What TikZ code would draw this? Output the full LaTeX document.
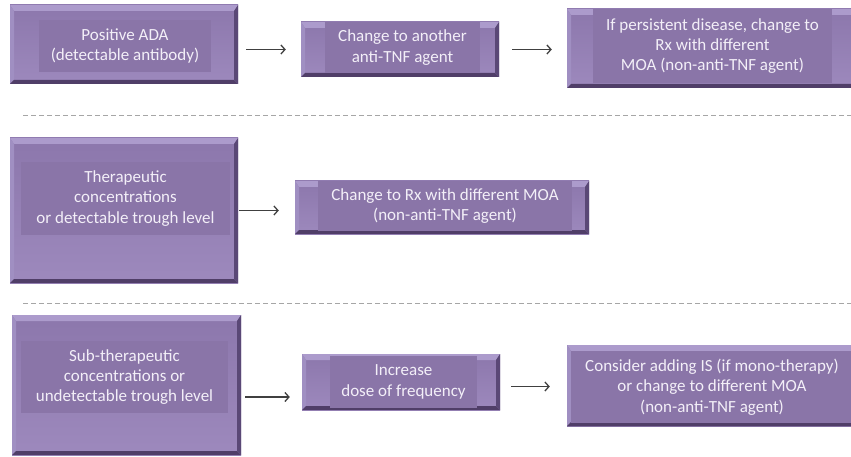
\documentclass[tikz,border=0pt]{standalone}
\usepackage{fontspec}
\setmainfont{Carlito}
\usetikzlibrary{arrows.meta,positioning,calc}
\definecolor{faceTop}{RGB}{140,119,172}
\definecolor{faceBot}{RGB}{157,137,189}
\definecolor{innerPurple}{RGB}{138,117,168}
\definecolor{bevLight}{RGB}{172,155,204}
\definecolor{bevSide}{RGB}{160,143,194}
\definecolor{bevDark}{RGB}{80,62,104}
\definecolor{bevRight}{RGB}{90,72,118}
\definecolor{txtLav}{RGB}{243,239,248}
\definecolor{arrGray}{RGB}{64,64,64}
\definecolor{dashGray}{RGB}{166,166,166}

\begin{document}
\begin{tikzpicture}[x=1pt,y=-1pt,
  every node/.style={font=\fontsize{17}{20.4}\selectfont},
  bevbox/.style={inner sep=0pt, top color=faceTop, bottom color=faceBot,
    path picture={
      \coordinate (pp-nw) at (path picture bounding box.north west);
      \coordinate (pp-ne) at (path picture bounding box.north east);
      \coordinate (pp-sw) at (path picture bounding box.south west);
      \coordinate (pp-se) at (path picture bounding box.south east);
      \fill[bevLight] (pp-nw) -- (pp-ne) -- ([shift={(-4pt,-6pt)}]pp-ne)
        -- ([shift={(4pt,-6pt)}]pp-nw) -- cycle;
      \fill[bevSide] (pp-nw) -- ([shift={(4pt,-6pt)}]pp-nw)
        -- ([shift={(4pt,4pt)}]pp-sw) -- (pp-sw) -- cycle;
      \fill[bevDark] (pp-sw) -- ([shift={(4pt,4pt)}]pp-sw)
        -- ([shift={(-4pt,4pt)}]pp-se) -- (pp-se) -- cycle;
      \fill[bevRight] (pp-se) -- ([shift={(-4pt,4pt)}]pp-se)
        -- ([shift={(-4pt,-6pt)}]pp-ne) -- (pp-ne) -- cycle;
    }},
  inbox/.style={fill=innerPurple, text=txtLav, align=center, inner sep=0pt},
  arr/.style={draw=arrGray, line width=1.3pt,
              -{Straight Barb[length=4pt,width=9pt]}},
  sep/.style={draw=dashGray, line width=1pt, dash pattern=on 5pt off 3pt}
]
\useasboundingbox (0,0) rectangle (851,457);

% row 1: antibody positive
\node[bevbox, minimum width=228, minimum height=79] (ada) at (124,44.5) {};
\node[inbox, minimum width=172, minimum height=52] (ada-t) at (125,46)
  {Positive ADA\\(detectable antibody)};
\node[bevbox, minimum width=198, minimum height=55] (swap) at (400,49.5) {};
\node[inbox, minimum width=155, minimum height=51] (swap-t) at (402.5,47.5)
  {Change to another\\anti-TNF agent};
\node[bevbox, minimum width=313, minimum height=79] (moa1) at (723.5,48.5) {};
\node[inbox, minimum width=239, minimum height=74] (moa1-t) at (712.5,46)
  {If persistent disease, change to\\Rx with different\\MOA (non-anti-TNF agent)};

\draw[arr, shorten <=8pt, shorten >=15pt] (ada.east |- swap.west) -- (swap.west);
\draw[arr, shorten <=13pt, shorten >=15pt] (swap.east) -- (swap.east -| moa1.west);

% separators
\coordinate (s1a) at (23,116);  \coordinate (s1b) at (851,116);
\coordinate (s2a) at (23,303);  \coordinate (s2b) at (851,303);
\draw[sep] (s1a) -- (s1b);
\draw[sep] (s2a) -- (s2b);

% row 2: therapeutic level
\node[bevbox, minimum width=228, minimum height=145] (thera) at (124,210.5) {};
\node[inbox, minimum width=209, minimum height=73] (thera-t) at (125.5,198.5)
  {Therapeutic\\concentrations\\or detectable trough level};
\node[bevbox, minimum width=294, minimum height=53] (moa2) at (442,207.5) {};
\node[inbox, minimum width=254, minimum height=50] (moa2-t) at (445,206)
  {Change to Rx with different MOA\\(non-anti-TNF agent)};

\draw[arr, shorten <=1pt, shorten >=16pt] (thera.east) -- (thera.east -| moa2.west);

% row 3: sub-therapeutic level
\node[bevbox, minimum width=229, minimum height=140] (subthera) at (126.5,385) {};
\node[inbox, minimum width=207, minimum height=72] (subthera-t) at (124.5,377)
  {Sub-therapeutic\\concentrations or\\undetectable trough level};
\node[bevbox, minimum width=198, minimum height=56] (dose) at (401,382) {};
\node[inbox, minimum width=147, minimum height=52] (dose-t) at (403.5,382)
  {Increase\\dose of frequency};
\node[bevbox, top color=innerPurple, bottom color=innerPurple,
      minimum width=313, minimum height=81] (consider) at (723.5,385.5) {};
\node[inbox, minimum width=282, minimum height=72] (consider-t) at (712,387)
  {Consider adding IS (if mono-therapy)\\or change to different MOA\\(non-anti-TNF agent)};

\draw[arr, shorten <=4pt, shorten >=12pt]
  ([yshift=-12pt]subthera.east) -- ([yshift=-12pt]subthera.east -| dose.west);
\draw[arr, shorten <=11pt, shorten >=17pt]
  ([yshift=-4.5pt]dose.east) -- ([yshift=-4.5pt]dose.east -| consider.west);
\end{tikzpicture}
\end{document}
